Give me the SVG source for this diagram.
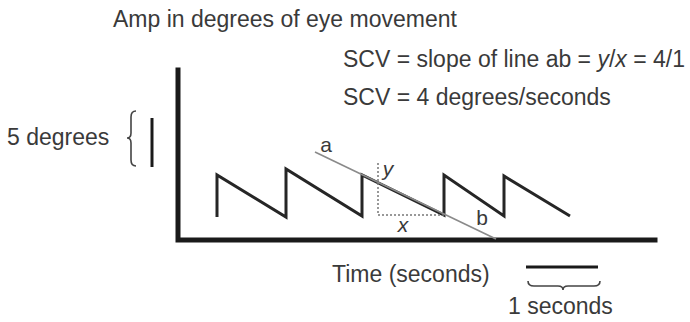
<svg xmlns="http://www.w3.org/2000/svg" width="690" height="322" viewBox="0 0 690 322">
<style>
text{font-family:"Liberation Sans",Arial,sans-serif;fill:#3a3a3a}
.t{font-size:23px}
.l{font-size:21px}
.i{font-style:italic}
.ax{stroke:#1a1a1a;stroke-width:5;fill:none;stroke-linecap:square}
.saw{stroke:#262626;stroke-width:3;fill:none;stroke-linejoin:miter}
.ab{stroke:#8a8a8a;stroke-width:1.6;fill:none}
.dot{stroke:#777;stroke-width:1.5;fill:none;stroke-dasharray:2 2}
.br{stroke:#444;stroke-width:1.6;fill:none}
</style>
<rect width="690" height="322" fill="#fff"/>
<g id="titles">
<text class="t" x="113" y="27">Amp in degrees of eye movement</text>
<text class="t" x="343" y="67">SCV = slope of line ab = <tspan class="i">y</tspan>/<tspan class="i">x</tspan> = 4/1</text>
<text class="t" x="343" y="105">SCV = 4 degrees/seconds</text>
</g>
<g id="scale-y">
<text class="t" x="7" y="145">5 degrees</text>
<path class="br" d="M136,111 Q131,111 131,117 L131,133 Q131,138 127,138 Q131,138 131,143 L131,160 Q131,166 136,166"/>
<line x1="152" y1="118" x2="152" y2="167" stroke="#1a1a1a" stroke-width="3"/>
</g>
<g id="axes">
<path class="ax" d="M178,70 L178,240 L655,240"/>
</g>
<g id="signal">
<path class="saw" d="M217,217 L217,175 L286,217 L286,169 L362,216 L362,175 L444,215 L444,175 L504,216 L504,176 L570,216"/>
<line class="ab" x1="315" y1="152" x2="496" y2="239"/>
<path class="dot" d="M378,163 L378,215 L444,215"/>
<text class="l" x="326" y="152" text-anchor="middle">a</text>
<text class="l i" x="388" y="176" text-anchor="middle">y</text>
<text class="l i" x="403" y="232" text-anchor="middle">x</text>
<text class="l" x="482" y="225" text-anchor="middle">b</text>
</g>
<g id="scale-x">
<text class="t" x="332" y="282">Time (seconds)</text>
<line x1="526" y1="267" x2="598" y2="267" stroke="#1a1a1a" stroke-width="3"/>
<path class="br" d="M528,281 Q528,286 534,286 L558,286 Q563,286 563,290 Q563,286 568,286 L594,286 Q600,286 600,281"/>
<text class="t" x="508" y="314">1 seconds</text>
</g>
</svg>
